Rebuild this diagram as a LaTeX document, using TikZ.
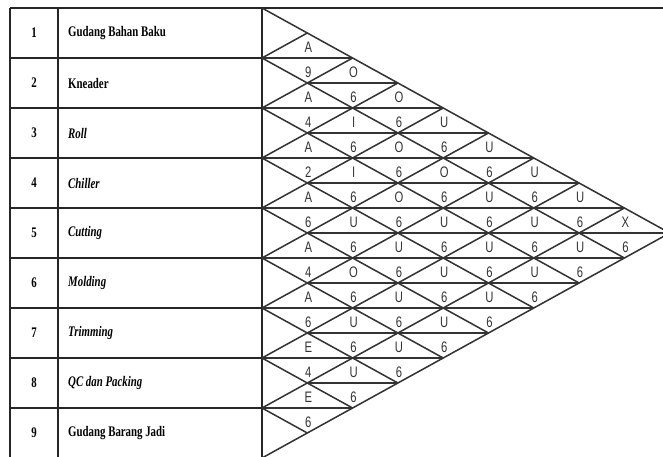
\documentclass[tikz,border=0pt]{standalone}
\usepackage{fontspec}
\newfontfamily\tabfont[FakeStretch=0.74]{Liberation Serif}
\newfontfamily\arcfont[FakeStretch=0.74]{Liberation Sans}
\usetikzlibrary{calc}

\begin{document}
\begin{tikzpicture}[x=0.03cm, y=-0.03cm,
  tabline/.style={line width=1.8pt, color=black!85},
  arcline/.style={line width=1.3pt, color=black!80},
  deptno/.style={inner sep=0pt, font=\tabfont\fontsize{12.5}{14}\selectfont\bfseries},
  dept/.style={deptno, anchor=west},
  rel/.style={inner sep=0pt, text=black!80, font=\arcfont\fontsize{13}{15}\selectfont}]
\def\h{45.3}
\useasboundingbox (0,0) rectangle (663,457);
\clip (0,0) rectangle (663,457);

% table of departments
\draw[tabline] (10,8) -- (663,8);
\foreach \x in {10,58,262} \draw[tabline] (\x,8) -- (\x,460);
\foreach \m in {1,...,8} \draw[tabline] (10,8+50*\m) -- (262,8+50*\m);
\foreach \n/\name in {1/Gudang Bahan Baku, 2/Kneader, 3/\textit{Roll},
    4/\textit{Chiller}, 5/\textit{Cutting}, 6/\textit{Molding},
    7/\textit{Trimming}, 8/\textit{QC dan Packing}, 9/Gudang Barang Jadi} {
  \node[deptno] (no-\n) at (34,50*\n-17) {\n};
  \node[dept] (dep-\n) at (68,50*\n-17) {\name};
}

% relationship chart
\coordinate (apex) at (262+9*\h,233);
\draw[arcline] (262,8) -- (apex) -- (262,458);
\foreach \m in {1,...,8} {
  \pgfmathsetmacro\yo{8+50*\m}
  \draw[arcline] (262,\yo) -- ({262+(458-\yo)/50*\h},{(458+\yo)/2});
  \draw[arcline] (262,\yo) -- ({262+(\yo-8)/50*\h},{(\yo+8)/2});
}
\foreach \k in {2,...,16} {
  \pgfmathsetmacro\xa{262+mod(\k,2)*\h}
  \pgfmathsetmacro\xb{262+min(\k,18-\k)*\h}
  \draw[arcline] (\xa,8+25*\k) -- (\xb,8+25*\k);
}

\foreach \i/\j/\r/\s in {1/2/A/9, 1/3/O/6, 1/4/O/6, 1/5/U/6, 1/6/U/6, 1/7/U/6, 1/8/U/6, 1/9/X/6,
    2/3/A/4, 2/4/I/6, 2/5/O/6, 2/6/O/6, 2/7/U/6, 2/8/U/6, 2/9/U/6,
    3/4/A/2, 3/5/I/6, 3/6/O/6, 3/7/U/6, 3/8/U/6, 3/9/U/6,
    4/5/A/6, 4/6/U/6, 4/7/U/6, 4/8/U/6, 4/9/U/6,
    5/6/A/4, 5/7/O/6, 5/8/U/6, 5/9/U/6,
    6/7/A/6, 6/8/U/6, 6/9/U/6,
    7/8/E/4, 7/9/U/6,
    8/9/E/6} {
  \pgfmathsetmacro\cx{262+(\j-\i)*\h+1}
  \pgfmathsetmacro\cy{8+25*(\i+\j-1)}
  \node[rel] (r-\i-\j) at (\cx,\cy-10.5) {\r};
  \node[rel] (s-\i-\j) at (\cx,\cy+14) {\s};
}
\end{tikzpicture}
\end{document}
